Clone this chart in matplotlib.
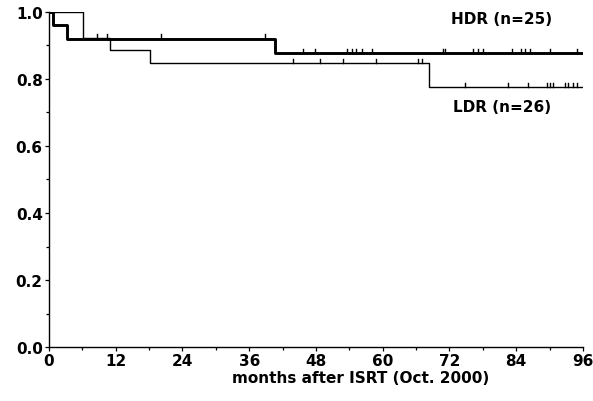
import matplotlib
matplotlib.use("Agg")
import matplotlib.pyplot as plt
import numpy as np

plt.rcParams['font.family'] = ['DejaVu Sans']
plt.rcParams['font.weight'] = 'bold'

# HDR (n=25) Kaplan-Meier steps
hdr_times = [0, 0.8, 3.2, 40.6, 96]
hdr_surv = [1.0, 0.96, 0.92, 0.876, 0.876]
hdr_censor = [8.6, 10.4, 20.1, 38.8, 45.6, 47.8, 53.5, 54.4, 55.2, 56.2, 58.0,
              70.8, 71.2, 76.3, 77.2, 78.0, 83.2, 84.8, 85.6, 86.5, 90.1, 94.9]

# LDR (n=26) Kaplan-Meier steps
ldr_times = [0, 6.1, 11.0, 18.2, 68.4, 96]
ldr_surv = [1.0, 0.923, 0.885, 0.846, 0.775, 0.775]
ldr_censor = [43.9, 48.7, 52.8, 58.8, 66.4, 67.0,
              74.8, 82.6, 86.2, 89.5, 90.1, 90.7, 92.8, 93.4, 94.3, 95.0]

x_ticks = [0, 12, 24, 36, 48, 60, 72, 84, 96]
y_ticks = [0.0, 0.2, 0.4, 0.6, 0.8, 1.0]


def surv_at(times, surv, t):
    idx = np.searchsorted(times, t, side='right') - 1
    return surv[idx]


fig = plt.figure(figsize=(5.93, 4.02), dpi=100)
ax = fig.add_axes([0.0826, 0.134, 0.9004, 0.834])

ax.step(ldr_times, ldr_surv, where='post', color='black', lw=1.0)
ax.step(hdr_times, hdr_surv, where='post', color='black', lw=2.1)

tick_h = 0.014
for t in hdr_censor:
    s = surv_at(hdr_times, hdr_surv, t)
    ax.plot([t, t], [s, s + tick_h], color='black', lw=1.0)
for t in ldr_censor:
    s = surv_at(ldr_times, ldr_surv, t)
    ax.plot([t, t], [s, s + tick_h], color='black', lw=1.0)

ax.set_xlim(0, 96)
ax.set_ylim(0, 1.0)
ax.set_xticks(x_ticks)
ax.set_xticks(np.arange(0, 97, 6), minor=True)
ax.set_yticks(y_ticks)
ax.set_yticks(np.arange(0, 1.01, 0.1), minor=True)
ax.set_yticklabels([f"{v:.1f}" for v in y_ticks])
ax.tick_params(axis='both', which='major', labelsize=11, length=3, width=0.9, pad=1.5)
ax.tick_params(axis='both', which='minor', length=2, width=0.9)
for lab in ax.get_xticklabels() + ax.get_yticklabels():
    lab.set_fontweight('bold')

ax.spines['top'].set_visible(False)
ax.spines['right'].set_visible(False)
for sp in ['left', 'bottom']:
    ax.spines[sp].set_linewidth(1.0)

ax.text(0.584, -0.09, "months after ISRT (Oct. 2000)", transform=ax.transAxes,
        ha='center', va='center', fontsize=11, fontweight='bold')
ax.text(0.847, 0.979, "HDR (n=25)", transform=ax.transAxes,
        ha='center', va='center', fontsize=11, fontweight='bold')
ax.text(0.849, 0.719, "LDR (n=26)", transform=ax.transAxes,
        ha='center', va='center', fontsize=11, fontweight='bold')

fig.savefig("out.png", dpi=100)
